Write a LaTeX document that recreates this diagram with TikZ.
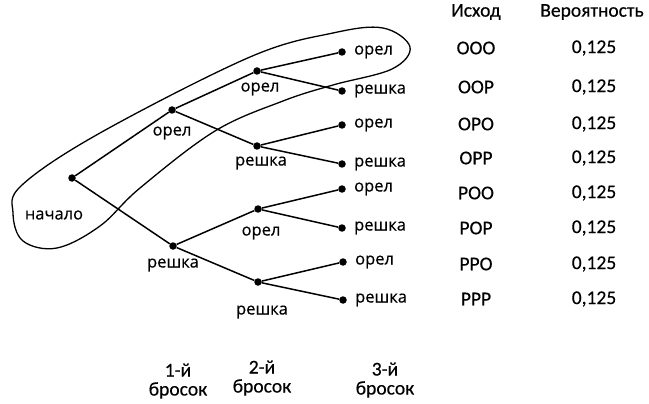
\documentclass[tikz,border=0pt]{standalone}
\usepackage{fontspec}
\setmainfont{Open Sans}[FakeBold=0.5]
\newfontfamily\tabfont{Carlito}[FakeBold=0.4]
\begin{document}
\begin{tikzpicture}[x=1pt,y=-1pt,
  dot/.style={circle,fill,inner sep=0pt,minimum size=7.5pt},
  lbl/.style={font=\fontsize{16.5}{18}\selectfont, inner sep=0pt},
  tab/.style={font=\tabfont\fontsize{19.5}{21}\selectfont, inner sep=0pt},
  edge/.style={line width=1.5pt},
  loopline/.style={line width=1.3pt}]
\useasboundingbox (0,0) rectangle (649,404);
% dots
\node[dot] (s) at (72,178) {};
\node[dot] (o) at (172,110) {};
\node[dot] (r) at (173,246) {};
\node[dot] (oo) at (257,71) {};
\node[dot] (or) at (257,146) {};
\node[dot] (ro) at (258,209) {};
\node[dot] (rr) at (258,282) {};
\node[dot] (ooo) at (342,52) {};
\node[dot] (oor) at (342,91) {};
\node[dot] (oro) at (342,125) {};
\node[dot] (orr) at (342,164) {};
\node[dot] (roo) at (342,189) {};
\node[dot] (ror) at (342,228) {};
\node[dot] (rro) at (343,262) {};
\node[dot] (rrr) at (343,300) {};
% edges
\draw[edge] (s) -- (o);
\draw[edge] (s) -- (r);
\draw[edge] (o) -- (oo);
\draw[edge] (o) -- (or);
\draw[edge] (r) -- (ro);
\draw[edge] (r) -- (rr);
\draw[edge] (oo) -- (ooo);
\draw[edge] (oo) -- (oor);
\draw[edge] (or) -- (oro);
\draw[edge] (or) -- (orr);
\draw[edge] (ro) -- (roo);
\draw[edge] (ro) -- (ror);
\draw[edge] (rr) -- (rro);
\draw[edge] (rr) -- (rrr);
% loop
\draw[loopline] plot[smooth cycle, tension=0.6] coordinates {
  (13,213) (22,185) (100,133) (250,57) (333,33) (383,28) (410,47) (392,69)
  (333,85) (283,101) (215,131) (140,188) (100,226) (57,248) (23,241)};
% tree labels
\node[lbl] (ls) at (54,215) {начало};
\node[lbl] (lo) at (172,133) {орел};
\node[lbl] (lr) at (173,265) {решка};
\node[lbl] (loo) at (260,89) {орел};
\node[lbl] (lor) at (261,163) {решка};
\node[lbl] (lro) at (261,233) {орел};
\node[lbl] (lrr) at (262,312) {решка};
\foreach \n/\t in {ooo/орел,oor/решка,oro/орел,orr/решка,roo/орел,ror/решка,rro/орел,rrr/решка}
  \node[lbl,anchor=west] (l\n) at ([xshift=12pt]\n.center) {\t};
% table
\node[tab] (h1) at (476,12) {Исход};
\node[tab] (h2) at (592,12) {Вероятность};
\foreach \y/\t [count=\i] in {48/ООО,87/ООР,124/ОРО,158/ОРР,193/РОО,228/РОР,264/РРО,299/РРР}{
  \node[tab] (out\i) at (476,\y) {\t};
  \node[tab] (p\i) at (594,\y) {0,125};
}
% bottom
\node[tab,align=center] (b1) at (178,381) {1-й\\[-2pt]бросок};
\node[tab,align=center] (b2) at (262,378) {2-й\\[-2pt]бросок};
\node[tab,align=center] (b3) at (385,380) {3-й\\[-2pt]бросок};
\end{tikzpicture}
\end{document}
